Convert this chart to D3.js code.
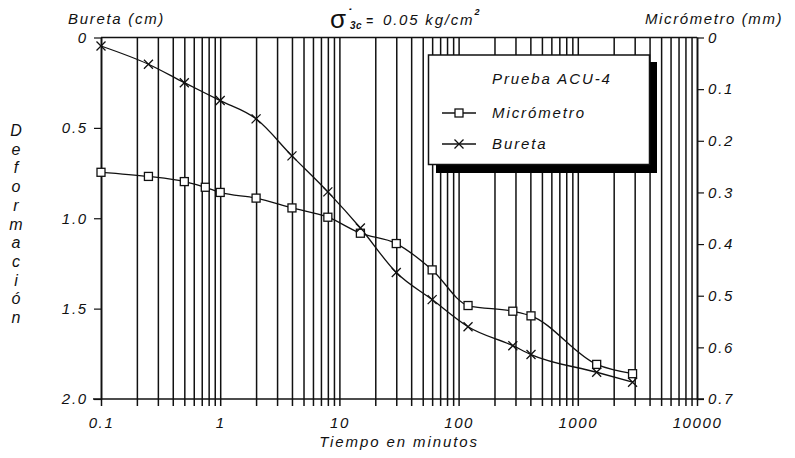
<!DOCTYPE html>
<html><head><meta charset="utf-8">
<script src="https://cdn.jsdelivr.net/npm/d3@7"></script>
<style>body{margin:0;background:#fff}svg{display:block}</style>
</head><body><svg id="c" width="795" height="458"></svg>
<script>
// ---- data ----
const tiempoBureta = [0.1, 0.25, 0.5, 1, 2, 4, 8, 15, 30, 60, 120, 285, 405, 1440, 2880];
const bureta = [0.047, 0.148, 0.25, 0.349, 0.45, 0.655, 0.854, 1.054, 1.30, 1.45, 1.60, 1.705, 1.754, 1.852, 1.907];
const tiempoMicrometro = [0.1, 0.25, 0.5, 0.75, 1, 2, 4, 8, 15, 30, 60, 120, 285, 405, 1440, 2880];
const micrometro = [0.261, 0.269, 0.279, 0.290, 0.300, 0.311, 0.330, 0.348, 0.379, 0.399, 0.450, 0.519, 0.530, 0.539, 0.633, 0.651];
const xTicks = [0.1, 1, 10, 100, 1000, 10000];
const xTickLabels = ["0.1", "1", "10", "100", "1000", "10000"];
const yLeftTicks = [0, 0.5, 1, 1.5, 2];
const yLeftLabels = ["0", "0.5", "1.0", "1.5", "2.0"];
const yRightTicks = [0, 0.1, 0.2, 0.3, 0.4, 0.5, 0.6, 0.7];
const yRightLabels = ["0", "0.1", "0.2", "0.3", "0.4", "0.5", "0.6", "0.7"];
const seriesNames = ["Micrómetro", "Bureta"];
const legendTitle = "Prueba ACU-4";
const leftTitle = "Bureta (cm)";
const rightTitle = "Micrómetro (mm)";
const xTitle = "Tiempo en minutos";
const yTitle = "Deformación";

// ---- layout ----
const L = 101, R = 697, T = 37.5, B = 399;
const FONT = "'Liberation Sans', Arial, Helvetica, sans-serif";
const svg = d3.select("#c");
const x = d3.scaleLog().domain([0.1, 10000]).range([L, R]);
const yL = d3.scaleLinear().domain([0, 2]).range([T, B]);
const yR = d3.scaleLinear().domain([0, 0.7]).range([T, B]);

function styleText(sel, size, ls) {
  sel.attr("font-family", FONT).attr("font-style", "italic")
     .attr("font-size", size).attr("letter-spacing", ls).attr("fill", "#111");
}

// vertical grid (log minor lines), extending below axis as ticks
const minor = [];
for (let e = -1; e <= 3; e++) for (let k = 1; k <= 9; k++) minor.push(+(k * Math.pow(10, e)).toPrecision(3));
minor.push(10000);
const grid = svg.append("g").attr("transform", `translate(0,${T})`)
  .call(d3.axisBottom(x).tickValues(minor).tickSize(B - T).tickFormat(""));
grid.select(".domain").remove();
grid.selectAll(".tick line").attr("y2", B - T + 7).attr("stroke", "#111").attr("stroke-width", 1.5);

// frame lines
svg.append("line").attr("x1", L).attr("x2", R).attr("y1", T).attr("y2", T).attr("stroke", "#111").attr("stroke-width", 1.6);
svg.append("line").attr("x1", L - 8).attr("x2", R + 7).attr("y1", B).attr("y2", B).attr("stroke", "#111").attr("stroke-width", 1.6);

// left axis
const gl = svg.append("g").attr("transform", `translate(${L},0)`)
  .call(d3.axisLeft(yL).tickValues(yLeftTicks).tickSize(7).tickSizeOuter(0).tickPadding(6)
    .tickFormat((d, i) => yLeftLabels[i]));
gl.select(".domain").attr("stroke", "#111").attr("stroke-width", 1.6);
gl.selectAll(".tick line").attr("stroke", "#111").attr("stroke-width", 1.2);
styleText(gl.selectAll("text"), 15, 1.8);

// right axis
const gr = svg.append("g").attr("transform", `translate(${R},0)`)
  .call(d3.axisRight(yR).tickValues(yRightTicks).tickSize(7).tickSizeOuter(0).tickPadding(4)
    .tickFormat((d, i) => yRightLabels[i]));
gr.select(".domain").attr("stroke", "#111").attr("stroke-width", 1.6);
gr.selectAll(".tick line").attr("stroke", "#111").attr("stroke-width", 1.2);
styleText(gr.selectAll("text"), 15, 1.8);

// bottom labels
const gb = svg.append("g").attr("transform", `translate(0,${B})`)
  .call(d3.axisBottom(x).tickValues(xTicks).tickSize(0).tickPadding(18)
    .tickFormat((d, i) => xTickLabels[i]));
gb.select(".domain").remove();
styleText(gb.selectAll("text"), 15, 1.6);

// titles
styleText(svg.append("text").attr("x", 68).attr("y", 24).text(leftTitle), 15, 1.7);
styleText(svg.append("text").attr("x", 645).attr("y", 24).text(rightTitle), 15, 1.6);
styleText(svg.append("text").attr("x", 399).attr("y", 447).attr("text-anchor", "middle").text(xTitle), 15, 1.9);

// sigma title
const tt = svg.append("text").attr("x", 330).attr("y", 28);
styleText(tt, 15, 1.8);
tt.append("tspan").attr("font-size", 26).attr("font-style", "normal").attr("letter-spacing", 0).text("σ");
tt.append("tspan").attr("x", 347).attr("y", 19).attr("font-size", 14).attr("font-weight", "bold").text("˙");
tt.append("tspan").attr("x", 350).attr("y", 29).attr("font-size", 10).attr("font-weight", "bold").attr("letter-spacing", 0.5).text("3c");
tt.append("tspan").attr("x", 366).attr("y", 25).attr("font-size", 12).attr("font-weight", "bold").text("=");
tt.append("tspan").attr("x", 383).attr("y", 25).text("0.05 kg/cm");
tt.append("tspan").attr("dx", 0).attr("y", 15).attr("font-size", 9).attr("font-weight", "bold").text("2");

// vertical y title (stacked letters)
yTitle.split("").forEach((ch, i) => {
  styleText(svg.append("text").attr("x", 16).attr("y", 136 + i * 18.7)
    .attr("text-anchor", "middle").text(ch), 16, 0);
});

// data lines
const curve = d3.curveMonotoneX;
const micData = tiempoMicrometro.map((t, i) => [t, micrometro[i]]);
const burData = tiempoBureta.map((t, i) => [t, bureta[i]]);
svg.append("path").datum(micData).attr("fill", "none").attr("stroke", "#111").attr("stroke-width", 1.3)
  .attr("d", d3.line().x(d => x(d[0])).y(d => yR(d[1])).curve(curve));
svg.append("path").datum(burData).attr("fill", "none").attr("stroke", "#111").attr("stroke-width", 1.3)
  .attr("d", d3.line().x(d => x(d[0])).y(d => yL(d[1])).curve(curve));

const sq = 8, xs = 4.5;
function drawSquare(g, cx, cy) {
  g.append("rect").attr("x", cx - sq / 2).attr("y", cy - sq / 2).attr("width", sq).attr("height", sq)
    .attr("fill", "#fff").attr("stroke", "#111").attr("stroke-width", 1.3);
}
function drawX(g, cx, cy) {
  g.append("path").attr("d", `M${cx - xs},${cy - xs}L${cx + xs},${cy + xs}M${cx - xs},${cy + xs}L${cx + xs},${cy - xs}`)
    .attr("stroke", "#111").attr("stroke-width", 1.3).attr("fill", "none");
}
const mk = svg.append("g");
micData.forEach(d => drawSquare(mk, x(d[0]), yR(d[1])));
burData.forEach(d => drawX(mk, x(d[0]), yL(d[1])));

// legend
const lg = svg.append("g");
lg.append("rect").attr("x", 436).attr("y", 62).attr("width", 221).attr("height", 111).attr("fill", "#000");
lg.append("rect").attr("x", 428.5).attr("y", 55).attr("width", 221).attr("height", 109.5)
  .attr("fill", "#fff").attr("stroke", "#111").attr("stroke-width", 1.5);
styleText(lg.append("text").attr("x", 492).attr("y", 84).text(legendTitle), 15, 1.9);
const ly = [113, 144];
seriesNames.forEach((name, i) => {
  lg.append("line").attr("x1", 442).attr("x2", 476).attr("y1", ly[i]).attr("y2", ly[i])
    .attr("stroke", "#111").attr("stroke-width", 1.3);
  if (i === 0) drawSquare(lg, 459, ly[i]); else drawX(lg, 459, ly[i]);
  styleText(lg.append("text").attr("x", 492).attr("y", ly[i] + 5).text(name), 15, 1.9);
});
</script>
</body></html>
